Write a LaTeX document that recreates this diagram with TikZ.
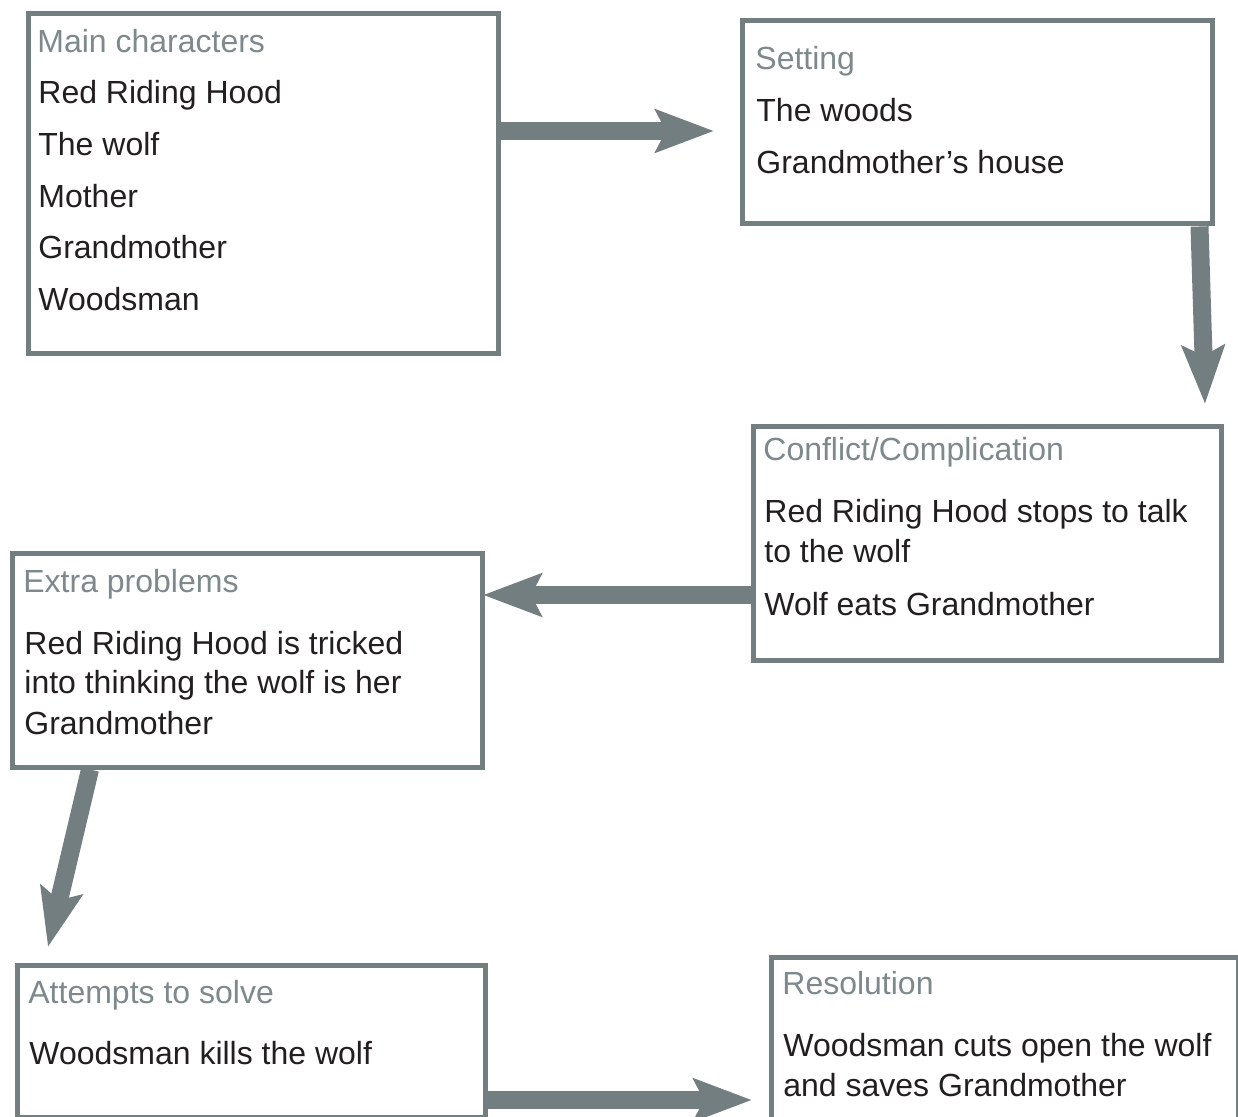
\documentclass[tikz,border=0pt]{standalone}
\usepackage{fontspec}
\setmainfont{Liberation Sans}
\usepackage{xcolor}
\usetikzlibrary{positioning,calc,arrows.meta}
\definecolor{frm}{HTML}{737E81}
\definecolor{hdc}{HTML}{7D898C}
\definecolor{ink}{HTML}{231F20}
\tikzset{
  pane/.style={draw=frm, line width=2.5pt, fill=white, anchor=north west, inner sep=0pt},
  hd/.style={anchor=base west, inner sep=0pt, text=hdc},
  ln/.style={anchor=base west, inner sep=0pt, text=ink},
  flw/.style={draw=frm, line width=9pt, -{Stealth[length=29pt, width=21pt, inset=5pt]}}}
\begin{document}
\begin{tikzpicture}[x=0.5pt, y=-0.5pt, font=\fontsize{16}{20}\selectfont]
\useasboundingbox (0,0) rectangle (1238,1117);
% boxes
\node[pane, minimum width=235pt, minimum height=170pt] (main) at (25.5,11) {};
\node[pane, minimum width=235pt, minimum height=101.5pt] (setting) at (740,18.5) {};
\node[pane, minimum width=234pt, minimum height=117pt] (conflict) at (751,424) {};
\node[pane, minimum width=235pt, minimum height=106.5pt] (extra) at (9.5,551.5) {};
\node[pane, minimum width=234pt, minimum height=76pt] (attempts) at (14.5,962.5) {};
\node[pane, minimum width=233.5pt, minimum height=100pt] (resolution) at (769,954.5) {};
% texts
\node[hd] (mainT) at (37,53) {Main characters};
\foreach \t/\y [count=\i] in {Red Riding Hood/104, The wolf/156, Mother/208, Grandmother/259, Woodsman/311}
  \node[ln] (mainL\i) at (38,\y) {\t};
\node[hd] (settingT) at (755,70) {Setting};
\node[ln] (settingL1) at (756,122) {The woods};
\node[ln] (settingL2) at (756,174) {Grandmother’s house};
\node[hd] (conflictT) at (763,461) {Conflict/Complication};
\node[ln] (conflictL1) at (764,523) {Red Riding Hood stops to talk};
\node[ln] (conflictL2) at (764,563) {to the wolf};
\node[ln] (conflictL3) at (764,616) {Wolf eats Grandmother};
\node[hd] (extraT) at (23,593) {Extra problems};
\node[ln] (extraL1) at (24,654) {Red Riding Hood is tricked};
\node[ln] (extraL2) at (24,694) {into thinking the wolf is her};
\node[ln] (extraL3) at (24,734) {Grandmother};
\node[hd] (attemptsT) at (28,1003) {Attempts to solve};
\node[ln] (attemptsL1) at (29,1064) {Woodsman kills the wolf};
\node[hd] (resolutionT) at (782,994) {Resolution};
\node[ln] (resolutionL1) at (783,1056) {Woodsman cuts open the wolf};
\node[ln] (resolutionL2) at (783,1096) {and saves Grandmother};
% arrow ends
\coordinate (t1) at (714,131);
\coordinate (t2) at (1205,404);
\coordinate (t3) at (483,595);
\coordinate (t4) at (48,947);
\coordinate (t5) at (752,1100);
\draw[flw] (main.east |- t1) -- (t1);
\draw[flw] ($(setting.south east)+(-15.5,0)$) -- (t2);
\draw[flw] (conflict.west |- t3) -- (t3);
\draw[flw] ($(extra.south west)+(80.5,0)$) -- (t4);
\draw[flw] (attempts.east |- t5) -- (t5);
\end{tikzpicture}
\end{document}
